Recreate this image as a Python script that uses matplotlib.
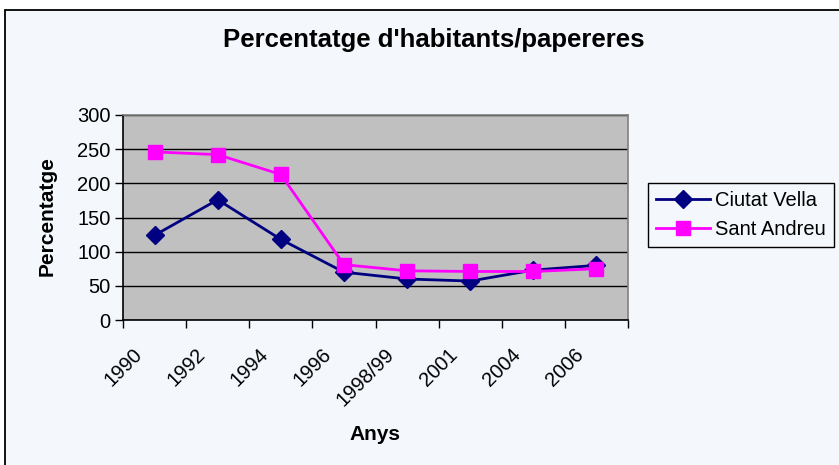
import matplotlib
matplotlib.use("Agg")
import matplotlib.pyplot as plt
from matplotlib.patches import Rectangle
from matplotlib.transforms import ScaledTranslation

categories = ["1990", "1992", "1994", "1996", "1998/99", "2001", "2004", "2006"]
ciutat_vella = [124, 176, 118, 70, 60, 57, 73, 80]
sant_andreu = [246, 242, 213, 81, 72, 71, 71, 75]
yticks = [0, 50, 100, 150, 200, 250, 300]

plt.rcParams['font.family'] = ['Liberation Sans', 'DejaVu Sans']
W, H = 839, 465
fig = plt.figure(figsize=(W / 100, H / 100), dpi=100, facecolor='white')
bg = '#F4F7FC'
fig.patches.append(Rectangle((5 / W, -0.1), 1.2, 1 - 10 / H + 0.1, transform=fig.transFigure,
                             facecolor=bg, edgecolor='black', linewidth=1.3, zorder=-10))

ax = fig.add_axes([123 / W, (H - 320) / H, (628 - 123) / W, 205 / H])
ax.set_facecolor('#C0C0C0')
x = list(range(len(categories)))
ax.plot(x, ciutat_vella, color='#000080', marker='D', markersize=9, linewidth=2, label='Ciutat Vella', zorder=3)
ax.plot(x, sant_andreu, color='#FF00FF', marker='s', markersize=10.5, linewidth=2, label='Sant Andreu', zorder=3)

ax.set_xlim(-0.5, len(categories) - 0.5)
ax.set_ylim(0, 300)
ax.set_yticks(yticks)
ax.set_yticklabels([str(v) for v in yticks], fontsize=14.5)
ax.yaxis.grid(True, color='black', linewidth=1)
ax.set_axisbelow(True)
ax.tick_params(axis='y', direction='out', length=6, width=1, pad=3)

ax.set_xticks(x)
ax.set_xticklabels(categories, fontsize=14.5, rotation=45, ha='right', va='top')
ax.set_xticks([i - 0.5 for i in range(len(categories) + 1)], minor=True)
ax.tick_params(axis='x', which='major', length=0, pad=18)
ax.tick_params(axis='x', which='minor', direction='out', length=6, width=1)
off = ScaledTranslation(-9 / 100, 0, fig.dpi_scale_trans)
for lab in ax.get_xticklabels():
    lab.set_transform(lab.get_transform() + off)

for s in ['top', 'right']:
    ax.spines[s].set_color('#808080')
    ax.spines[s].set_linewidth(1.2)
for s in ['left', 'bottom']:
    ax.spines[s].set_color('black')
    ax.spines[s].set_linewidth(1.2)

fig.text(47.5 / W, 1 - 216 / H, 'Percentatge', fontsize=15, fontweight='bold',
         rotation=90, ha='center', va='center')
fig.text(375 / W, 1 - 435 / H, 'Anys', fontsize=15, fontweight='bold', ha='center', va='center')
fig.text(434 / W, 1 - 40 / H, "Percentatge d'habitants/papereres", fontsize=18.5, fontweight='bold',
         ha='center', va='center')

leg = fig.legend(loc='upper left', bbox_to_anchor=(648 / W, 1 - 183 / H), fontsize=14.5,
                 frameon=True, fancybox=False, edgecolor='black', facecolor=bg, framealpha=1,
                 handlelength=2.7, borderpad=0.4, labelspacing=0.5, handletextpad=0.25,
                 borderaxespad=0)
leg.get_frame().set_linewidth(1)

fig.savefig('out.png', dpi=100, facecolor='white')
